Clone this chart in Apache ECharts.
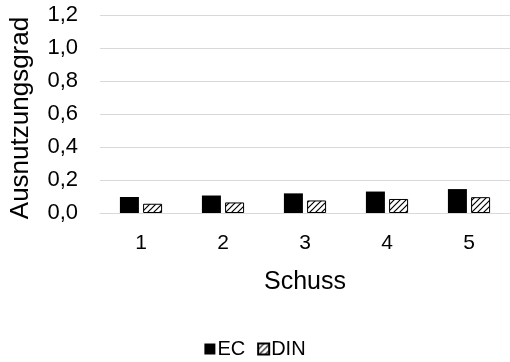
<!DOCTYPE html>
<html>
<head>
<meta charset="utf-8">
<script src="https://cdn.jsdelivr.net/npm/echarts@6/dist/echarts.min.js"></script>
<style>
  html, body { margin: 0; padding: 0; background: #fff; }
  #chart { width: 510px; height: 362px; }
</style>
</head>
<body>
<div id="chart"></div>
<script>
// Shot numbers and utilisation ratios per method
const categories = ['1', '2', '3', '4', '5'];
const ecValues = [0.097, 0.106, 0.119, 0.130, 0.145];
const dinValues = [0.056, 0.064, 0.076, 0.085, 0.096];
const yTicks = [0, 0.2, 0.4, 0.6, 0.8, 1.0, 1.2];

// Diagonal hatch fill for the DIN bars
function hatchPattern() {
  const c = document.createElement('canvas');
  c.width = 6; c.height = 6;
  const g = c.getContext('2d');
  g.fillStyle = '#fff';
  g.fillRect(0, 0, 6, 6);
  g.strokeStyle = '#000';
  g.lineWidth = 1.2;
  g.beginPath();
  g.moveTo(0, 6); g.lineTo(6, 0);
  g.moveTo(-3, 3); g.lineTo(3, -3);
  g.moveTo(3, 9); g.lineTo(9, 3);
  g.stroke();
  return c;
}

const font = 'Liberation Sans, Arial, sans-serif';
const chart = echarts.init(document.getElementById('chart'), null, { renderer: 'canvas' });
chart.setOption({
  animation: false,
  grid: { left: 97, right: 0, top: 15, bottom: 149, containLabel: false },
  legend: {
    bottom: -2,
    left: 'center',
    itemWidth: 11,
    itemHeight: 11,
    itemGap: 12,
    icon: 'rect',
    textStyle: { fontFamily: font, fontSize: 20, color: '#000', padding: [0, 0, 0, -3] },
    data: ['EC', 'DIN']
  },
  xAxis: {
    type: 'category',
    data: categories,
    name: 'Schuss',
    nameLocation: 'middle',
    nameGap: 57,
    nameTextStyle: { fontFamily: font, fontSize: 25, color: '#000' },
    axisLine: { lineStyle: { color: '#d9d9d9', width: 1 } },
    axisTick: { show: false },
    axisLabel: { fontFamily: font, fontSize: 21, color: '#000', margin: 20 }
  },
  yAxis: {
    type: 'value',
    min: 0,
    max: 1.2,
    interval: 0.2,
    name: 'Ausnutzungsgrad',
    nameLocation: 'middle',
    nameGap: 66,
    nameTextStyle: { fontFamily: font, fontSize: 26, color: '#000', padding: [0, 8, 0, 0] },
    axisLine: { show: false },
    axisTick: { show: false },
    splitLine: { lineStyle: { color: '#d9d9d9', width: 1 } },
    axisLabel: {
      fontFamily: font, fontSize: 22, color: '#000', margin: 22,
      formatter: v => yTicks.includes(Math.round(v * 10) / 10) ? v.toFixed(1).replace('.', ',') : ''
    }
  },
  series: [
    {
      name: 'EC',
      type: 'bar',
      data: ecValues,
      barWidth: 19,
      barGap: '22%',
      itemStyle: { color: '#000' }
    },
    {
      name: 'DIN',
      type: 'bar',
      data: dinValues,
      barWidth: 19,
      itemStyle: {
        color: { image: hatchPattern(), repeat: 'repeat' },
        borderColor: '#000',
        borderWidth: 1
      }
    }
  ]
});
</script>
</body>
</html>
